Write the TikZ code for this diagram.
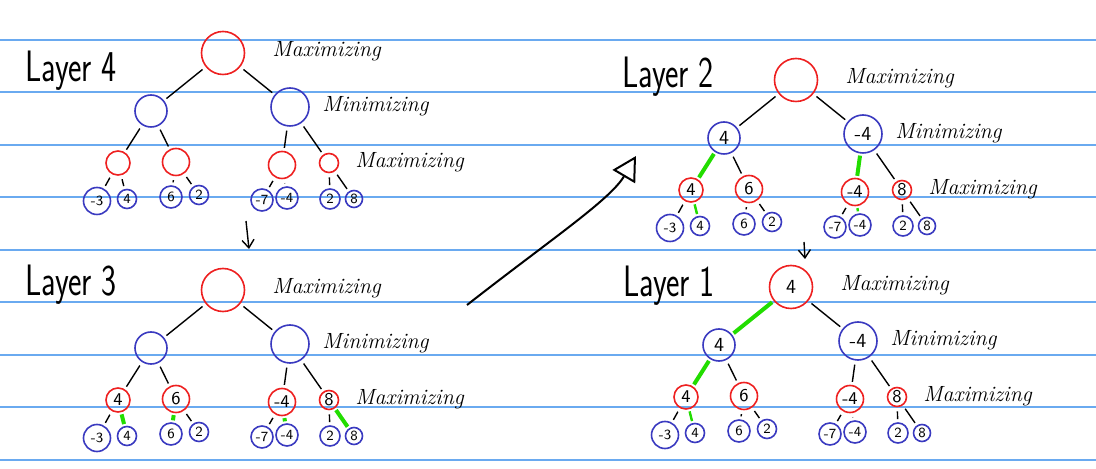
\documentclass[tikz,border=0pt]{standalone}
\usetikzlibrary{arrows.meta}
\definecolor{ruleblue}{HTML}{6AAAF0}
\definecolor{maxred}{HTML}{EE2020}
\definecolor{minblue}{HTML}{3A3AC0}
\definecolor{pickgreen}{HTML}{22DD00}

% one game tree: prefix, shift, root, min L/R, four max values
\newcommand{\gametree}[9]{%
  \begin{scope}[shift={#2}]
    % --- nodes ---
    \node[maxnode, minimum size=21.5pt] (#1r) at (223,53) {#3};
    \node[minnode, minimum size=16pt]  (#1a) at (151,111) {#4};
    \node[minnode, minimum size=19pt]  (#1b) at (290,107) {#5};
    \node[maxnode, minimum size=12pt, font=\sffamily\small]   (#1m1) at (118,163) {#6};
    \node[maxnode, minimum size=13.5pt, font=\sffamily\small] (#1m2) at (176,162) {#7};
    \node[maxnode, minimum size=13.5pt, font=\sffamily\small] (#1m3) at (282,165) {#8};
    \node[maxnode, minimum size=9.5pt, font=\sffamily\small]  (#1m4) at (329,163) {#9};
    \node[leaf, minimum size=13.5pt] (#1l1) at (97,201)  {-3};
    \node[leaf, minimum size=9.5pt]  (#1l2) at (127,199) {4};
    \node[leaf, minimum size=11pt]   (#1l3) at (171,197) {6};
    \node[leaf, minimum size=9.5pt]  (#1l4) at (199,195) {2};
    \node[leaf, minimum size=11pt]   (#1l5) at (262,200) {-7};
    \node[leaf, minimum size=11pt]   (#1l6) at (287,198) {-4};
    \node[leaf, minimum size=10pt]   (#1l7) at (330,199) {2};
    \node[leaf, minimum size=8.5pt]  (#1l8) at (354,199) {8};
    % --- labels ---
    \node[lbl] (#1t1) at (272,57)  {Maximizing};
    \node[lbl] (#1t2) at (322,112) {Minimizing};
    \node[lbl] (#1t3) at (355,168) {Maximizing};
    % --- edges ---
    \draw[edge] (#1r) -- (#1a);
    \draw[edge] (#1r) -- (#1b);
    \draw[edge] (#1a) -- (#1m1);
    \draw[edge] (#1a) -- (#1m2);
    \draw[edge] (#1b) -- (#1m3);
    \draw[edge] (#1b) -- (#1m4);
    \draw[edge] (#1m1) -- (#1l1);
    \draw[edge] (#1m1) -- (#1l2);
    \draw[edge] (#1m2) -- (#1l3);
    \draw[edge] (#1m2) -- (#1l4);
    \draw[edge] (#1m3) -- (#1l5);
    \draw[edge] (#1m3) -- (#1l6);
    \draw[edge] (#1m4) -- (#1l7);
    \draw[edge] (#1m4) -- (#1l8);
  \end{scope}}

\begin{document}
\begin{tikzpicture}[
  x=0.5pt, y=-0.5pt,
  rule/.style   ={draw=ruleblue, line width=1pt},
  maxnode/.style={circle, draw=maxred, line width=0.8pt, inner sep=0pt,
                  text=black, font=\sffamily},
  minnode/.style={circle, draw=minblue, line width=0.8pt, inner sep=0pt,
                  text=black, font=\sffamily},
  leaf/.style   ={circle, draw=minblue, line width=0.8pt, inner sep=0pt,
                  text=black, font=\sffamily\scriptsize},
  lbl/.style    ={anchor=base west, inner sep=0pt, font=\itshape\fontsize{11}{12}\selectfont},
  title/.style  ={anchor=base west, inner sep=0pt, font=\sffamily\fontsize{20}{22}\selectfont},
  edge/.style   ={draw=black, line width=0.7pt, shorten <=2pt, shorten >=1.5pt},
  pick/.style   ={draw=pickgreen, line width=2pt, shorten <=1pt, shorten >=1pt},
  step arrow/.style={->, >={Straight Barb[length=4pt, width=6pt]}, line width=0.7pt},
  jump arrow/.style={-{Triangle[open, length=12pt, width=13pt]}, line width=1pt},
]
  \useasboundingbox (0,0) rectangle (1096,469);
  \fill[white] (0,0) rectangle (1096,469);

  % --- ruled paper ---
  \foreach \y in {40,92.5,...,461}
    \draw[rule] (0,\y) -- (1096,\y);

  % --- the four trees ---
  \gametree{d}{(0,0)}{}{}{}{}{}{}{}
  \gametree{c}{(0,237)}{}{}{}{4}{6}{-4}{8}
  \gametree{b}{(573,27)}{}{4}{-4}{4}{6}{-4}{8}
  \gametree{a}{(568,234)}{4}{4}{-4}{4}{6}{-4}{8}

  % --- chosen moves ---
  \draw[pick] (cm1) -- (cl2);
  \draw[pick] (cm2) -- (cl3);
  \draw[pick] (cm3) -- (cl6);
  \draw[pick] (cm4) -- (cl8);
  \draw[pick] (ba) -- (bm1);
  \draw[pick] (bb) -- (bm3);
  \draw[pick, line width=1.2pt] (bm1) -- (bl2);
  \draw[pick, line width=1.2pt] (bm3) -- (bl6);
  \draw[pick] (ar) -- (aa);
  \draw[pick] (aa) -- (am1);
  \draw[pick, line width=1.2pt] (am1) -- (al2);

  % --- titles ---
  \node[title] (tfour)  at (25,82)   {\scalebox{0.8}[1.1]{Layer 4}};
  \node[title] (tthree) at (25,296)  {\scalebox{0.8}[1.1]{Layer 3}};
  \node[title] (ttwo)   at (622,88)  {\scalebox{0.8}[1.1]{Layer 2}};
  \node[title] (tone)   at (623,297) {\scalebox{0.8}[1.1]{Layer 1}};

  % --- arrows between layers ---
  \coordinate (s1) at (246,221);
  \coordinate (e1) at (249,249);
  \coordinate (s2) at (467,305);
  \coordinate (e2) at (636,156);
  \coordinate (s3) at (804,242);
  \coordinate (e3) at (805,259);
  \draw[step arrow] (s1) -- (e1);
  \draw[jump arrow] (s2) .. controls (550,240) and (610,200) .. (e2);
  \draw[step arrow] (s3) -- (e3);
\end{tikzpicture}
\end{document}
